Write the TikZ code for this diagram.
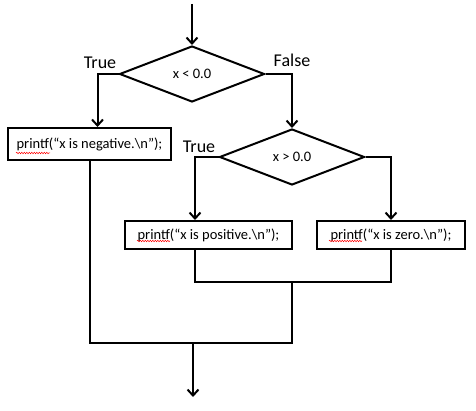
\documentclass[tikz,border=0pt]{standalone}
\usepackage{fontspec}
\setmainfont{Carlito}
\usetikzlibrary{shapes.geometric, arrows.meta, decorations.pathmorphing}
\tikzset{ test/.style = { diamond
                        , draw
                        , line width   = 2pt
                        , inner sep    = 0pt
                        , minimum width  = 145pt
                        , minimum height = 56pt
                        , font = \fontsize{14.5}{16}\selectfont
                        },
          stmt/.style = { rectangle
                        , draw
                        , line width   = 2pt
                        , inner sep    = 0pt
                        , minimum height = 28pt
                        , font = \fontsize{14.5}{16}\selectfont
                        },
          line/.style = { line width = 2pt },
          arr/.style  = { line, -{Straight Barb[length=6pt, width=11pt]} },
          lbl/.style  = { font = \fontsize{18}{20}\selectfont, inner sep = 0pt },
          spell/.style = { red, line width = 0.5pt
                         , decorate
                         , decoration = {snake, segment length = 2.5pt, amplitude = 0.7pt}
                         }
        }
\begin{document}
\begin{tikzpicture}[x=1pt, y=-1pt]
    \useasboundingbox (0,0) rectangle (476,411);
    \coordinate (start) at (192,4);
    \node[test] (lt) at (192,74) {x < 0.0};
    \node[test] (gt) at (292,157) {x > 0.0};
    \node[stmt, minimum width = 163pt, minimum height = 32pt] (neg) at (89.5,144) {printf(“x is negative.\textbackslash n”);};
    \node[stmt, minimum width = 167pt] (pos) at (208.5,235) {printf(“x is positive.\textbackslash n”);};
    \node[stmt, minimum width = 148pt] (zero) at (391,235) {printf(“x is zero.\textbackslash n”);};
    \node[lbl] (t1) at (100,63) {True};
    \node[lbl] (f1) at (292,60) {False};
    \node[lbl] (t2) at (199,147) {True};
    \coordinate (j1) at (292,282);
    \coordinate (j3) at (292,343);
    \coordinate (j2) at (193,343);
    \coordinate (end) at (193,397);
    % branches
    \draw[arr] (start) -- (lt.north);
    \draw[arr] (lt.west) -| ([xshift=8pt]neg.north);
    \draw[arr] (lt.east) -| (gt.north);
    \draw[arr] (gt.west) -| ([xshift=-13.5pt]pos.north);
    \draw[arr] (gt.east) -| (zero.north);
    % joins
    \draw[line] ([xshift=-13.5pt]pos.south) |- (j1) -| (zero.south);
    \draw[line] (neg.south) |- (j3) -- (j1);
    \draw[arr] (j2) -- (end);
    % spell check marks
    \draw[spell] ([xshift=9pt, yshift=-9pt]neg.west) -- ++(34,0);
    \draw[spell] ([xshift=13pt, yshift=-6pt]pos.west) -- ++(33,0);
    \draw[spell] ([xshift=13pt, yshift=-6pt]zero.west) -- ++(33,0);
\end{tikzpicture}
\end{document}
